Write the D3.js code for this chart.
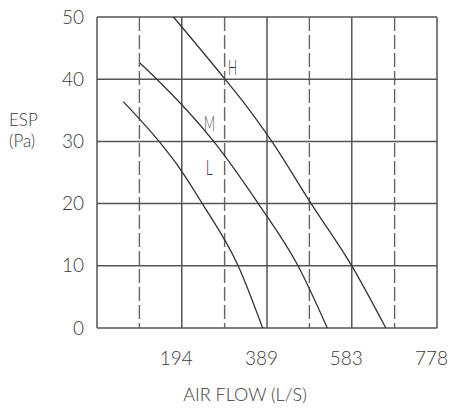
<!DOCTYPE html>
<html>
<head>
<meta charset="utf-8">
<script src="https://cdn.jsdelivr.net/npm/d3@7"></script>
<style>
  html, body { margin: 0; padding: 0; background: #fff; }
  svg { display: block; }
  text { font-family: Lato, "Open Sans", sans-serif; fill: #3a3a3a; }
</style>
</head>
<body>
<svg id="chart" width="453" height="408"></svg>
<script>
// ---- data ----
const espTicks = [0, 10, 20, 30, 40, 50];
const flowTicks = [194, 389, 583, 778];
const flowDashed = [97, 292, 486, 681];

const flowH = [175, 293, 343, 400, 490, 583, 661];
const espH  = [50, 40, 35.6, 30, 20, 10, 0];
const flowM = [98, 137, 267, 369, 460, 527];
const espM  = [42.6, 40, 30, 20, 10, 0];
const flowL = [60, 142, 190, 241, 323, 379];
const espL  = [36.4, 30, 25.6, 20, 10, 0];

const curveNames = ["H", "M", "L"];
const curveLabelFlow = [300, 245, 249];
const curveLabelEsp  = [40.7, 31.7, 24.6];

// ---- layout ----
const svg = d3.select("#chart");
const margin = {left: 97, top: 17, right: 16, bottom: 80};
const W = 453 - margin.left - margin.right;   // 340
const H = 408 - margin.top - margin.bottom;   // 311

const x = d3.scaleLinear().domain([0, 778]).range([0, W]);
const y = d3.scaleLinear().domain([0, 50]).range([H, 0]);

const g = svg.append("g").attr("transform", `translate(${margin.left},${margin.top})`);

// dashed vertical grid
g.append("g").selectAll("line").data(flowDashed).join("line")
  .attr("x1", d => x(d)).attr("x2", d => x(d))
  .attr("y1", 0).attr("y2", H)
  .attr("stroke", "#666").attr("stroke-width", 1.4)
  .attr("stroke-dasharray", "14,4");

// solid vertical grid
g.append("g").selectAll("line").data([0].concat(flowTicks)).join("line")
  .attr("x1", d => x(d)).attr("x2", d => x(d))
  .attr("y1", 0).attr("y2", H)
  .attr("stroke", "#555").attr("stroke-width", 1.5);

// horizontal grid
g.append("g").selectAll("line").data(espTicks).join("line")
  .attr("x1", 0).attr("x2", W)
  .attr("y1", d => y(d)).attr("y2", d => y(d))
  .attr("stroke", "#555").attr("stroke-width", 1.5);

// y axis labels
const yAxis = g.append("g")
  .call(d3.axisLeft(y).tickValues(espTicks).tickSize(0).tickPadding(13).tickFormat(d3.format("d")));
yAxis.select(".domain").remove();
yAxis.selectAll("text").attr("font-size", 19).attr("font-family", "Lato, sans-serif").attr("fill", "#3a3a3a").attr("font-weight", 300);

// x axis labels
const xAxis = g.append("g").attr("transform", `translate(0,${H})`)
  .call(d3.axisBottom(x).tickValues(flowTicks).tickSize(0).tickPadding(24).tickFormat(d3.format("d")));
xAxis.select(".domain").remove();
xAxis.selectAll("text").attr("font-size", 19).attr("font-family", "Lato, sans-serif").attr("fill", "#3a3a3a").attr("font-weight", 300).attr("dx", -6);

// curves
const line = d3.line().x(d => x(d[0])).y(d => y(d[1])).curve(d3.curveMonotoneX);
const series = [
  d3.zip(flowH, espH),
  d3.zip(flowM, espM),
  d3.zip(flowL, espL)
];
g.append("g").selectAll("path").data(series).join("path")
  .attr("d", line)
  .attr("fill", "none").attr("stroke", "#333").attr("stroke-width", 1.3);

// curve labels (narrow letters)
g.append("g").selectAll("text").data(curveNames).join("text")
  .attr("x", (d, i) => x(curveLabelFlow[i]))
  .attr("y", (d, i) => y(curveLabelEsp[i]))
  .attr("font-size", 21).attr("font-weight", 300)
  .attr("textLength", (d, i) => [9, 11, 7][i])
  .attr("lengthAdjust", "spacingAndGlyphs")
  .text(d => d);

// axis titles
svg.append("text").attr("x", 9).attr("y", 126).attr("font-size", 17).attr("font-weight", 300).text("ESP");
svg.append("text").attr("x", 9).attr("y", 147).attr("font-size", 17).attr("font-weight", 300).text("(Pa)");
svg.append("text").attr("x", 245).attr("y", 401).attr("text-anchor", "middle")
  .attr("font-size", 18).attr("font-weight", 300).text("AIR FLOW (L/S)");
</script>
</body>
</html>
